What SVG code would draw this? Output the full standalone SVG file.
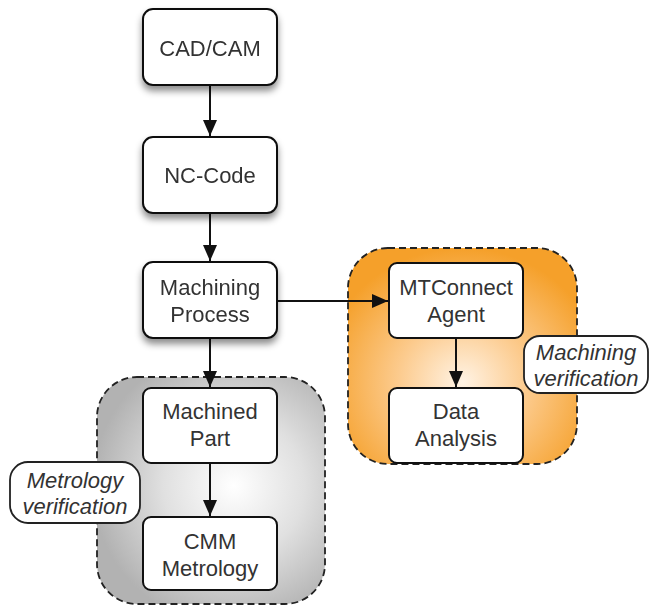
<svg xmlns="http://www.w3.org/2000/svg" width="651" height="607" viewBox="0 0 651 607">
<defs>
<style>
.box{fill:#fff;stroke:#111;stroke-width:2}
.t{font-family:"Liberation Sans",Arial,sans-serif;font-size:22px;fill:#333;text-anchor:middle}
.it{font-family:"Liberation Sans",Arial,sans-serif;font-size:22px;font-style:italic;fill:#333;text-anchor:middle}
.grp{stroke:#222;stroke-width:1.8;stroke-dasharray:7,4}
.lbl{fill:#fff;stroke:#222;stroke-width:1.8}
.c{stroke:#111;stroke-width:2;fill:none;marker-end:url(#ah)}
</style>
<marker id="ah" viewBox="0 0 16 14" refX="16" refY="7" markerWidth="16" markerHeight="14" markerUnits="userSpaceOnUse" orient="auto">
<path d="M0,0 L16,7 L0,14 z" fill="#111"/>
</marker>
<filter id="sh" x="-20%" y="-20%" width="150%" height="160%">
<feDropShadow dx="0" dy="5" stdDeviation="3.5" flood-color="#000" flood-opacity="0.45"/>
</filter>
<radialGradient id="og" cx="0.5" cy="0.62" r="0.62">
<stop offset="0" stop-color="#fff3e4"/>
<stop offset="0.45" stop-color="#fccb8e"/>
<stop offset="1" stop-color="#f5a02a"/>
</radialGradient>
<radialGradient id="gg" cx="0.6" cy="0.48" r="0.62">
<stop offset="0" stop-color="#ffffff"/>
<stop offset="0.5" stop-color="#e0e0e0"/>
<stop offset="1" stop-color="#b2b2b2"/>
</radialGradient>
</defs>
<rect width="651" height="607" fill="#fff"/>

<g id="machining-verification-group">
<rect class="grp" x="348" y="248" width="229" height="216" rx="40" fill="url(#og)"/>
</g>
<g id="metrology-verification-group">
<rect class="grp" x="97" y="377" width="228" height="227" rx="40" fill="url(#gg)"/>
</g>

<g id="connectors">
<line class="c" x1="210" y1="85" x2="210" y2="136"/>
<line class="c" x1="210" y1="213" x2="210" y2="261"/>
<line class="c" x1="277" y1="301" x2="388" y2="301"/>
<line class="c" x1="456" y1="338" x2="456" y2="387"/>
<line class="c" x1="210" y1="338" x2="210" y2="387"/>
<line class="c" x1="210" y1="463" x2="210" y2="516"/>
</g>

<g id="cadcam" filter="url(#sh)">
<rect class="box" x="143" y="9" width="134" height="76" rx="10"/>
<text class="t" x="210" y="56" font-size="24.5">CAD/CAM</text>
</g>
<g id="nccode" filter="url(#sh)">
<rect class="box" x="143" y="137" width="134" height="76" rx="10"/>
<text class="t" x="210" y="183" font-size="23.5">NC-Code</text>
</g>
<g id="machining-process" filter="url(#sh)">
<rect class="box" x="143" y="262" width="134" height="76" rx="10"/>
<text class="t" x="210" y="295">Machining</text>
<text class="t" x="210" y="322">Process</text>
</g>
<g id="mtconnect-agent">
<rect class="box" x="389" y="263" width="134" height="75" rx="8"/>
<text class="t" x="456" y="295">MTConnect</text>
<text class="t" x="456" y="322">Agent</text>
</g>
<g id="data-analysis">
<rect class="box" x="389" y="388" width="134" height="75" rx="8"/>
<text class="t" x="456" y="419">Data</text>
<text class="t" x="456" y="446">Analysis</text>
</g>
<g id="machined-part">
<rect class="box" x="143" y="388" width="134" height="75" rx="8"/>
<text class="t" x="210" y="419">Machined</text>
<text class="t" x="210" y="446">Part</text>
</g>
<g id="cmm-metrology">
<rect class="box" x="143" y="517" width="134" height="73" rx="8"/>
<text class="t" x="210" y="549">CMM</text>
<text class="t" x="210" y="576">Metrology</text>
</g>
<g id="machining-verification-label">
<rect class="lbl" x="524" y="336" width="124" height="57" rx="16"/>
<text class="it" x="586" y="360">Machining</text>
<text class="it" x="586" y="386">verification</text>
</g>
<g id="metrology-verification-label">
<rect class="lbl" x="10" y="462" width="130" height="61" rx="18"/>
<text class="it" x="75" y="488">Metrology</text>
<text class="it" x="75" y="514">verification</text>
</g>
</svg>
